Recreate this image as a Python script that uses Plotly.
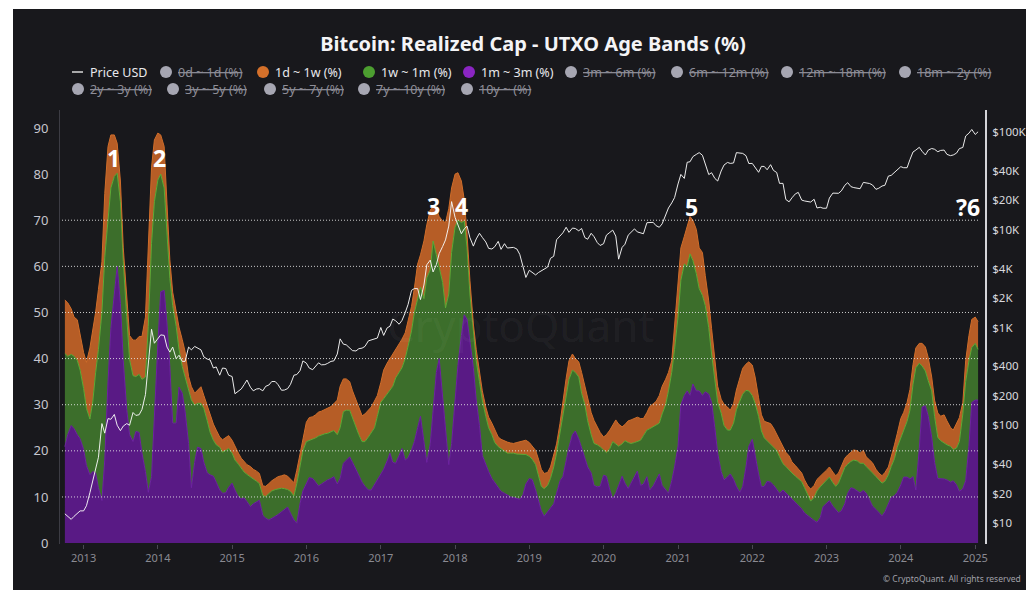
import plotly.graph_objects as go
import pandas as pd

# ---------------- data (semi-monthly samples, 2012-10-01 .. 2025-01-15) ----------------
dates = pd.date_range("2012-10-01", periods=296, freq="SMS")

# 1m ~ 3m (%)
band_1m_3m = [
    20.9, 23.5, 25.5, 24.8, 23.5, 22.6,
    20.3, 16.8, 14.8, 15.5, 15.2, 12, 9.2, 18, 35, 46.5, 54, 60, 52, 39.5, 29, 23.5, 22, 24.2, 24, 19.5, 15.5, 11, 14.4, 28,
    43.2, 54.5, 54.8, 47.5, 38.2, 26, 26, 33.8, 32.5, 28.5, 21.6, 12, 17.5, 20.8, 20.5, 17.5, 15.2, 14.8, 14.5, 13.2, 11.5, 10.8, 10.9, 12.1,
    13, 11.5, 10, 9.6, 9.8, 9, 7.9, 8.5, 8.9, 9.3, 6, 5.4, 5, 5.3, 5.8, 6.2, 6.8, 7.3, 7.8, 6.5, 5, 4.3, 8.6, 11.3,
    13, 14.2, 14, 13.1, 12.4, 12.8, 13.4, 13.7, 14, 14.4, 12.8, 14, 17.3, 18, 18.7, 17.5, 16, 14.5, 13.2, 12.3, 11.5, 11.5, 12.7, 13.9,
    15, 16, 17.8, 19.5, 17.5, 17.3, 19, 20.5, 18, 18.5, 20.2, 22, 25, 27.5, 22, 17.5, 21.5, 29, 37, 40, 32, 24, 17, 21.6,
    31, 38.5, 45, 49.5, 48.5, 44, 38, 31, 25.5, 19, 17, 15.5, 14, 13.2, 12, 11.2, 10.8, 10.4, 10, 9.9, 9.7, 9.5, 10.5, 12.8,
    14, 13.8, 11.5, 9.3, 7, 5.8, 6.8, 7.6, 8.5, 10.8, 13.5, 14.4, 18, 20.8, 23.5, 24.3, 22.6, 20.5, 18.3, 16.5, 15.2, 12.5, 12.2, 12.3,
    14.7, 14.5, 11.5, 9.6, 10.8, 12.7, 14.5, 13, 11.8, 13, 14.4, 15.6, 12.5, 12.8, 14.4, 11.5, 12.4, 13.5, 15, 12.5, 11.5, 10.8, 13.5, 16.5,
    21, 30, 32, 33, 32, 34.5, 33, 33, 32, 32.8, 32.3, 30.5, 25, 19.5, 15.5, 13.7, 14.3, 15, 13.8, 12.3, 11, 12.3, 16.5, 21,
    22.5, 19, 15, 12.2, 12.3, 13.4, 13.2, 12.6, 11.5, 10.8, 11.5, 10.9, 10, 9.4, 8.8, 8.1, 7.4, 6.5, 5.9, 5.5, 4.9, 4.5, 5.5, 7.9,
    8.6, 9.2, 8, 7.3, 6.6, 7, 8.5, 10.8, 12, 11.8, 11.3, 10.9, 11.4, 10.8, 9.3, 8, 7.3, 6.7, 5.9, 6.8, 8.5, 9.9, 10.3, 11,
    12.6, 14.3, 14.3, 13.9, 14.4, 11.5, 20.5, 29.5, 29.8, 27.5, 23, 17.5, 14, 14, 13.9, 13.7, 13.2, 13.5, 12.6, 11.2, 11.8, 13.5, 21, 30.5,
    31, 31,
]

# 1w ~ 1m (%)
band_1w_1m = [
    20.2, 17, 15.4, 15.7, 16.1, 14.9,
    13.2, 12.4, 12.1, 15.1, 21.7, 30, 40.8, 44, 35, 30.5, 25.5, 20.2, 22, 21.5, 20.1, 16.3, 14.3, 11.9, 12.6, 16, 20.5, 36, 50.6, 46,
    35.5, 25.5, 22.2, 19.5, 19.2, 25.5, 21, 8.2, 5.8, 7.5, 11.6, 19, 12.4, 9.5, 9.8, 11.7, 11.3, 9.2, 7.8, 8.1, 9.3, 8.9, 9.2, 8.4,
    6.5, 6.5, 7.1, 6.6, 5.6, 5.9, 6.5, 5.4, 4.5, 3.6, 4.3, 4.7, 5.7, 6, 5.8, 5.6, 5.1, 4.5, 3.8, 4.7, 5.2, 8.6, 8, 8.7,
    9, 8, 8.6, 9.7, 10.8, 10.7, 10.3, 10.1, 10.1, 10, 10.7, 11, 11.2, 10.8, 10.1, 9.5, 9, 9, 8.8, 9.7, 11.5, 12.5, 12.3, 13.6,
    15.5, 15.3, 14.5, 13.5, 16.5, 18.5, 18, 17.5, 22, 24.5, 25.8, 28, 28, 28, 31, 40, 37.7, 36.5, 25.5, 19.5, 24.5, 27, 37, 41.4,
    37.5, 31.5, 24.5, 20.3, 15.5, 10, 7, 8.5, 9.5, 12, 10.5, 9.5, 9.5, 8.6, 8.9, 9.2, 9, 9.1, 9.5, 9.6, 9.6, 9.8, 8.7, 6.4,
    4.8, 4.4, 5.5, 5.2, 5.3, 6, 5.7, 6.4, 8, 8.7, 10.5, 14.1, 14.3, 14.7, 14, 12.7, 13.4, 12, 11.7, 10, 8.3, 9.1, 9.1, 8.6,
    5.5, 5.1, 9, 12.4, 10.7, 8.3, 7, 9.2, 10, 8.6, 7.4, 6.4, 9.8, 10.5, 10.1, 13.3, 12.8, 12, 11, 15.5, 18.5, 22.2, 23.5, 25.5,
    28, 27, 28.5, 27, 30.7, 26.8, 25.4, 22.2, 21.7, 18.7, 14.4, 10.5, 10, 11, 12.7, 11.8, 10.2, 9.5, 12.2, 16.6, 19.8, 20, 16.6, 12,
    9.5, 11.3, 12.5, 12.1, 10.5, 8.8, 8.2, 8.2, 8.6, 7.9, 5.7, 5.7, 5.8, 5.8, 5.7, 5.8, 5.9, 5.5, 4.6, 3.6, 5, 6.8, 6.7, 5,
    5, 5.1, 5.1, 5, 6.4, 7.7, 7.9, 6.3, 5.7, 6.2, 6.5, 6.4, 5.9, 5.8, 6.6, 7.2, 7.1, 7.1, 7.1, 6.6, 6.3, 6.7, 8, 9.8,
    10.2, 9.9, 12.1, 14.9, 20, 26.5, 18.5, 8.9, 7.5, 7.7, 10, 10, 8.9, 8.2, 7.7, 7.6, 7.8, 6.8, 8, 10.8, 16.2, 21.5, 18.5, 11.9,
    12.3, 11,
]

# 1d ~ 1w (%)
band_1d_1w = [
    11.6, 11.6, 9.9, 8.5, 8.8, 8,
    7.8, 10, 15.4, 15.6, 13.1, 13, 11, 13.8, 16, 11.5, 9, 6.5, 4.5, 3, 3.4, 5.2, 7.7, 7.9, 8.2, 9.3, 13, 16, 16.5, 13.4,
    10.2, 8.5, 9, 6.5, 4, 2.9, 3.4, 4.8, 5.8, 5.5, 2.9, 2.9, 2.6, 2.9, 3.6, 2.8, 3.3, 3.5, 3.5, 3.2, 2.2, 2.7, 2.8, 2.8,
    2.8, 2.9, 2.4, 2.2, 2.2, 2.1, 2.2, 2.1, 2.2, 2.2, 2.1, 2.2, 2.2, 2.2, 2.4, 2.6, 2.7, 3, 2.9, 2.6, 2.9, 2.9, 2.8, 2.7,
    4.2, 5, 4.8, 5, 5.2, 5.1, 5.2, 5.4, 5.5, 5.8, 7.5, 9, 7.1, 6.8, 6.2, 6, 6, 5.8, 5.6, 6, 5.8, 5.5, 5.8, 4.5,
    4.3, 6.2, 6.7, 7, 6.8, 6, 6, 6.2, 5.6, 5.5, 5.3, 5.3, 7.5, 7, 12.5, 11.5, 13, 7.4, 9.9, 11.3, 13.3, 18.5, 18.5, 14,
    11.5, 10.3, 9, 4.7, 3, 3, 2.5, 2.5, 2, 2, 2, 2.3, 2.5, 2.7, 2.1, 2.1, 2.3, 2.4, 2.2, 2.1, 2.5, 2.7, 2.9, 3.1,
    3, 2.8, 3.1, 3.7, 3.7, 3.3, 2.8, 2.5, 2.5, 2, 2, 2.5, 3.4, 4, 3.5, 3, 3.3, 4.5, 4, 4.5, 4.8, 5, 3.7, 3.1,
    2.8, 3.9, 4, 3.5, 5.2, 4.8, 3.7, 3.5, 4.7, 5.1, 5.2, 5.3, 4.7, 3.7, 3.8, 4.8, 5, 5.2, 6, 6, 5.5, 4, 2.5, 5,
    6, 7, 6, 8.8, 8.1, 8.7, 9.6, 8.8, 9.3, 6.5, 5.8, 5.5, 4.5, 3.5, 3, 4.6, 5, 4.3, 4.2, 4.3, 5, 5.6, 5.7, 6.3,
    6.6, 5.7, 4, 3.5, 3.6, 3.9, 4.5, 4.2, 3.5, 3.6, 3.8, 3.1, 3.1, 2.4, 2.3, 2.2, 1.9, 1.7, 1.9, 2.6, 2.6, 2.5, 2.2, 2.2,
    2.2, 2.2, 2.3, 2.3, 2.2, 2, 2, 2, 2.1, 2.2, 2.2, 2.2, 2.8, 2.1, 2.1, 2.2, 1.6, 1.4, 1.6, 1.9, 1.7, 2, 3, 3,
    4.2, 4.1, 4.1, 4.5, 4.3, 4.3, 4.3, 4.9, 5.2, 5, 3, 3.5, 5.3, 5.3, 6.2, 5.2, 4.1, 4.2, 5.4, 5.2, 2.5, 4.5, 5.5, 6.1,
    5.7, 6,
]

# Price USD
price_usd = [
    12.4, 11.8, 10.9, 11.7, 12.5, 13.3,
    13.3, 15, 20.4, 27, 34.5, 47, 104, 83, 117, 115, 129, 100, 88, 98, 104, 100, 135, 126, 128, 145, 206, 430, 960, 690,
    770, 840, 830, 630, 560, 630, 480, 520, 450, 450, 630, 590, 640, 620, 590, 500, 475, 465, 385, 395, 325, 385, 380, 325,
    315, 210, 225, 235, 260, 290, 245, 225, 235, 237, 225, 250, 258, 280, 280, 260, 228, 229, 237, 262, 325, 330, 362, 455,
    432, 385, 370, 400, 435, 415, 417, 430, 450, 455, 535, 765, 675, 665, 610, 580, 575, 607, 615, 640, 730, 745, 755, 780,
    1000, 830, 990, 1030, 1220, 1170, 1080, 1180, 1420, 1720, 2400, 2500, 2500, 1930, 2720, 4380, 4890, 3700, 4400, 5700, 6750, 7870, 10900, 19400,
    13400, 11200, 9100, 10200, 10900, 8300, 6800, 8050, 9200, 8350, 7500, 6450, 6350, 6700, 7600, 6300, 7200, 6500, 6600, 6600, 6350, 5600, 4200, 3250,
    3850, 3650, 3450, 3650, 3820, 4000, 4150, 5100, 5350, 7900, 8550, 9300, 10600, 9400, 10400, 10300, 9750, 10300, 8300, 8000, 9200, 8500, 7400, 6900,
    7200, 8800, 9400, 9900, 8600, 5000, 6600, 7100, 8800, 9400, 10200, 9500, 9200, 9100, 11800, 11900, 11900, 11000, 10600, 11500, 13800, 16700, 18800, 21300,
    29400, 36800, 33500, 49000, 49600, 56000, 59000, 61500, 57800, 46500, 36700, 38300, 33500, 31500, 39900, 45900, 48800, 47700, 48200, 61500, 61300, 60400, 57200, 47600,
    47700, 43100, 38700, 44500, 44400, 41100, 46300, 40500, 38500, 29800, 29800, 20400, 19300, 21200, 23300, 24100, 20100, 19700, 19300, 19200, 20500, 16700, 17000, 16600,
    16600, 21100, 23700, 23500, 23600, 25000, 28500, 30300, 27600, 27000, 26800, 26300, 30500, 30200, 29700, 28700, 25900, 26600, 28000, 28500, 35400, 36000, 38700, 41900,
    44200, 43100, 43100, 52100, 62400, 65300, 69700, 63400, 58200, 65200, 67800, 66600, 62800, 64800, 65300, 59000, 57300, 58200, 60800, 67600, 69500, 91000, 97200, 106100,
    94400, 100500,
]

left_ticks = [0, 10, 20, 30, 40, 50, 60, 70, 80, 90]
grid_levels = [10, 20, 30, 40, 50, 60, 70]
price_ticks = [10, 20, 40, 100, 200, 400, 1000, 2000, 4000, 10000, 20000, 40000, 100000]
price_labels = ["$10", "$20", "$40", "$100", "$200", "$400", "$1K", "$2K", "$4K", "$10K", "$20K", "$40K", "$100K"]

peak_labels = ["1", "2", "3", "4", "5", "?6"]
peak_dates = ["2013-05-26", "2014-01-11", "2017-09-19", "2018-02-04", "2021-03-06", "2024-11-26"]
peak_levels = [83.5, 83.5, 73.1, 73.1, 72.9, 72.9]

legend_labels = ["Price USD", "0d ~ 1d (%)", "1d ~ 1w (%)", "1w ~ 1m (%)", "1m ~ 3m (%)",
                 "3m ~ 6m (%)", "6m ~ 12m (%)", "12m ~ 18m (%)", "18m ~ 2y (%)",
                 "2y ~ 3y (%)", "3y ~ 5y (%)", "5y ~ 7y (%)", "7y ~ 10y (%)", "10y ~ (%)"]
legend_active = [True, False, True, True, True, False, False, False, False, False, False, False, False, False]

# ---------------- styles / layout ----------------
FONT = "Noto Sans"
BG = "#18181c"
C_PURPLE_FILL, C_PURPLE_LINE, C_PURPLE_DOT = "#591a85", "#6e22a3", "#8a25c2"
C_GREEN_FILL, C_GREEN_LINE, C_GREEN_DOT = "#3c6e2b", "#5cab36", "#4c9e30"
C_ORANGE_FILL, C_ORANGE_LINE, C_ORANGE_DOT = "#b65d26", "#cf6d2a", "#d4702a"
C_GREY_DOT = "#a6a6b2"
legend_colors = [None, C_GREY_DOT, C_ORANGE_DOT, C_GREEN_DOT, C_PURPLE_DOT] + [C_GREY_DOT] * 9
# symbol centre x (px) and row y (px)
legend_sym_x = [78, 166, 263, 369, 469, 571, 677, 787, 905, 78, 173, 270, 364, 467]
legend_row_y = [72] * 9 + [89] * 5

W, H = 1026, 590
PL, PR, PT, PB = 60, 985, 110, 544


def px(x):
    return (x - PL) / (PR - PL)


def py(y):
    return (PB - y) / (PB - PT)


fig = go.Figure()
fig.add_trace(go.Scatter(x=dates, y=band_1m_3m, name="1m ~ 3m (%)", stackgroup="bands", mode="lines",
                         line=dict(color=C_PURPLE_LINE, width=1), fillcolor=C_PURPLE_FILL, showlegend=False))
fig.add_trace(go.Scatter(x=dates, y=band_1w_1m, name="1w ~ 1m (%)", stackgroup="bands", mode="lines",
                         line=dict(color=C_GREEN_LINE, width=1), fillcolor=C_GREEN_FILL, showlegend=False))
fig.add_trace(go.Scatter(x=dates, y=band_1d_1w, name="1d ~ 1w (%)", stackgroup="bands", mode="lines",
                         line=dict(color=C_ORANGE_LINE, width=1), fillcolor=C_ORANGE_FILL, showlegend=False))
fig.add_trace(go.Scatter(x=dates, y=price_usd, name="Price USD", yaxis="y2", mode="lines",
                         line=dict(color="rgba(245,245,245,0.95)", width=1), showlegend=False))

shapes = [dict(type="rect", xref="paper", yref="paper", x0=px(13), x1=px(1030), y0=py(594), y1=py(9),
               fillcolor=BG, line=dict(width=0), layer="below")]
for v in grid_levels:
    shapes.append(dict(type="line", xref="paper", yref="y", x0=px(62), x1=px(978), y0=v, y1=v,
                       line=dict(color="rgba(235,235,235,0.85)", width=1, dash="1px,2px"), layer="above"))

annotations = []
for lab, d, lv in zip(peak_labels, peak_dates, peak_levels):
    annotations.append(dict(x=d, y=lv, xref="x", yref="y", text=f"<b>{lab}</b>", showarrow=False,
                            font=dict(family=FONT, size=23, color="#ffffff"), xanchor="center", yanchor="middle"))

# custom legend
for lab, act, col, sx, ry in zip(legend_labels, legend_active, legend_colors, legend_sym_x, legend_row_y):
    if col is None:
        shapes.append(dict(type="line", xref="paper", yref="paper", x0=px(sx - 6), x1=px(sx + 5),
                           y0=py(ry), y1=py(ry), line=dict(color="#d8d8d8", width=1.5)))
    else:
        shapes.append(dict(type="circle", xref="paper", yref="paper", x0=px(sx - 6), x1=px(sx + 6),
                           y0=py(ry + 6), y1=py(ry - 6), fillcolor=col, line=dict(width=0)))
    if act:
        txt, tcol = lab, "#e8e8ec"
    else:
        txt, tcol = f'<span style="text-decoration:line-through">{lab}</span>', "#8e8e98"
    annotations.append(dict(x=px(sx + 10), y=py(ry), xref="paper", yref="paper", text=txt, showarrow=False,
                            xanchor="left", yanchor="middle", font=dict(family=FONT, size=12.5, color=tcol)))

annotations.append(dict(x=px(520), y=py(325), xref="paper", yref="paper", text="CryptoQuant", showarrow=False,
                        font=dict(family=FONT, size=44, color="rgba(255,255,255,0.05)")))
annotations.append(dict(x=px(1023), y=py(578), xref="paper", yref="paper", text="© CryptoQuant. All rights reserved",
                        showarrow=False, xanchor="right", yanchor="middle",
                        font=dict(family=FONT, size=8.5, color="#a0a0a8")))

fig.update_layout(
    width=W, height=H,
    margin=dict(l=PL, r=W - PR, t=PT, b=H - PB, pad=0, autoexpand=False),
    paper_bgcolor="#ffffff", plot_bgcolor="rgba(0,0,0,0)",
    title=dict(text="<b>Bitcoin: Realized Cap - UTXO Age Bands (%)</b>", x=533 / W, xanchor="center",
               xref="container", y=1 - 44 / H, yanchor="middle", yref="container",
               font=dict(family=FONT, size=20, color="#f4f4f6")),
    showlegend=False,
    hovermode=False,
    shapes=shapes,
    annotations=annotations,
    xaxis=dict(type="date", range=["2012-09-07", "2025-02-18"], showgrid=False, zeroline=False, showline=False,
               tick0="2013-01-01", dtick="M12", tickformat="%Y", ticks="outside", ticklen=4, tickwidth=1,
               tickcolor="#4a4a52", tickfont=dict(family=FONT, size=11, color="#8a8a92"), automargin=False),
    yaxis=dict(range=[-0.2, 93.9], tickvals=left_ticks, showgrid=False, zeroline=False, showline=True,
               linecolor="#3c3c44", linewidth=1, ticks="", ticklabelstandoff=8, automargin=False,
               tickfont=dict(family=FONT, size=13, color="#c6c6ce")),
    yaxis2=dict(type="log", overlaying="y", side="right", range=[0.785, 5.225], tickvals=price_ticks,
                ticktext=price_labels, showgrid=False, zeroline=False, showline=True, linecolor="#d4d4d8",
                linewidth=2, ticks="", ticklabelstandoff=3, automargin=False,
                tickfont=dict(family=FONT, size=11.5, color="#d8d8de")),
    font=dict(family=FONT),
)

fig.write_html("out.html", config={"displayModeBar": False},
               post_script="document.body.style.margin='0';document.body.style.overflow='hidden';")
